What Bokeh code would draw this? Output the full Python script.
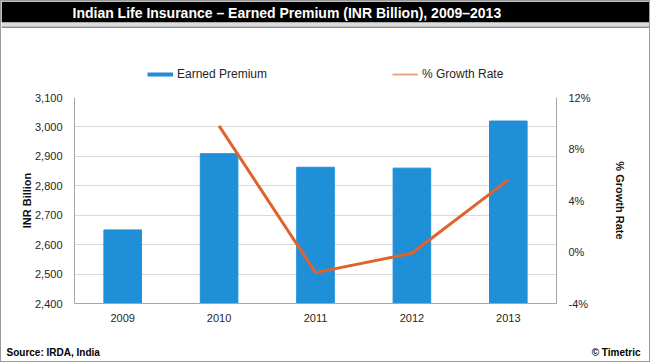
from bokeh.plotting import figure
from bokeh.layouts import column
from bokeh.models import (Range1d, LinearAxis, FixedTicker, NumeralTickFormatter,
                          PrintfTickFormatter, Legend, LegendItem, Label, BoxAnnotation,
                          FactorRange)
from bokeh.embed import file_html
from bokeh.resources import INLINE

# ---------------- data ----------------
years = ["2009", "2010", "2011", "2012", "2013"]
premium = [2650, 2909, 2863, 2860, 3020]          # INR Billion
growth_years = ["2010", "2011", "2012", "2013"]
growth = [9.8, -1.6, -0.1, 5.6]                     # % growth rate
left_ticks = [2400, 2500, 2600, 2700, 2800, 2900, 3000, 3100]
right_ticks = [-4, 0, 4, 8, 12]

title_text = "Indian Life Insurance \u2013 Earned Premium (INR Billion), 2009\u20132013"
source_text = "Source: IRDA, India"
credit_text = "\u00a9 Timetric"

# ---------------- layout ----------------
FONT = "Liberation Sans"
W = 648
HH, MH, FH = 86, 252, 22          # header, main, footer heights
FL, FR = 73, 555                  # main frame left/right (canvas px)
MT, MB = 10, 216                  # main frame top/bottom (canvas px)

BLUE = "#1f8fd8"
ORANGE = "#e0622c"
AXIS = "#a6a6a6"
TXT = "#262626"


def bare(height):
    f = figure(width=W, height=height, x_range=Range1d(0, W), y_range=Range1d(0, height),
               output_backend="svg", toolbar_location=None, min_border=0,
               x_axis_location=None, y_axis_location=None)
    f.frame_align = False
    f.grid.visible = False
    f.outline_line_color = None
    f.background_fill_color = "white"
    f.border_fill_color = "white"
    return f


def sbox(f, top, bottom, color, height):
    f.add_layout(BoxAnnotation(left=0, right=W, top=height - top, bottom=height - bottom,
                               left_units="screen", right_units="screen",
                               top_units="screen", bottom_units="screen",
                               fill_color=color, fill_alpha=1, line_color=None))


# ---------------- header: title bar + legend ----------------
header = bare(HH)
sbox(header, 0, 21, "black", HH)
sbox(header, 21, 25, "#dcdcdc", HH)
sbox(header, 25, 26.5, "#8c8c8c", HH)
header.add_layout(Label(x=71, y=HH - 11.5, x_units="screen", y_units="screen",
                        text=title_text, text_color="white", text_font=FONT,
                        text_font_size="14px", text_font_style="bold",
                        text_baseline="middle"))

# legend swatches (drawn outside the visible range, so only the legend shows them)
sw_bar = header.line(x=[0, 1], y=[-50, -50], line_width=4, color=BLUE, line_cap="butt")
sw_line = header.line(x=[0, 1], y=[-50, -50], line_width=2, color="#e9a584")


def make_legend(label, rend, cx):
    return Legend(items=[LegendItem(label=label, renderers=[rend])],
                  location=(cx, HH - 80), orientation="horizontal",
                  padding=0, margin=0, spacing=0, glyph_width=26, glyph_height=14,
                  label_height=14, label_standoff=4, border_line_color=None,
                  background_fill_alpha=0, label_text_font=FONT,
                  label_text_font_size="12px", label_text_color=TXT)


header.add_layout(make_legend("Earned Premium", sw_bar, 146))
header.add_layout(make_legend("% Growth Rate", sw_line, 391))

# ---------------- main chart ----------------
p = figure(width=W, height=MH, x_range=FactorRange(*years), y_range=Range1d(2400, 3100),
           output_backend="svg", toolbar_location=None,
           min_border_left=FL, min_border_right=W - FR,
           min_border_top=MT, min_border_bottom=MH - MB)
p.frame_align = False
p.outline_line_color = None
p.background_fill_color = "white"
p.border_fill_color = "white"
p.extra_y_ranges = {"growth": Range1d(-4, 12)}

bars = p.vbar(x=years, top=premium, bottom=2400, width=0.39, color=BLUE)
line = p.line(x=growth_years, y=growth, y_range_name="growth", line_width=3, color=ORANGE)

p.xaxis.axis_line_color = AXIS
p.xaxis.major_tick_line_color = None
p.xaxis.major_label_standoff = 4
p.yaxis.ticker = FixedTicker(ticks=left_ticks)
p.yaxis.formatter = NumeralTickFormatter(format="0,0")
p.yaxis.axis_label = "INR Billion"

right = LinearAxis(y_range_name="growth", ticker=FixedTicker(ticks=right_ticks),
                   formatter=PrintfTickFormatter(format="%d%%"),
                   axis_label="% Growth Rate")
p.add_layout(right, "right")

for ax in p.yaxis:
    ax.axis_line_color = AXIS
    ax.major_tick_line_color = None
    ax.minor_tick_line_color = None
    ax.major_label_standoff = 6
for ax in p.xaxis + p.yaxis:
    ax.major_label_text_font = FONT
    ax.major_label_text_font_size = "11px"
    ax.major_label_text_color = TXT
    ax.axis_label_text_font = FONT
    ax.axis_label_text_font_size = "11px"
    ax.axis_label_text_font_style = "bold"
    ax.axis_label_text_color = "#111111"
p.yaxis[0].axis_label_standoff = -1
right.axis_label_standoff = 20

p.xgrid.visible = False
p.ygrid.ticker = FixedTicker(ticks=left_ticks)
p.ygrid.grid_line_color = "#d9d9d9"

# ---------------- footer ----------------
footer = bare(FH)
footer.add_layout(Label(x=5, y=FH - 13, x_units="screen", y_units="screen",
                        text=source_text, text_color="black", text_font=FONT,
                        text_font_size="10px", text_font_style="bold",
                        text_baseline="middle"))
footer.add_layout(Label(x=639, y=FH - 13, x_units="screen", y_units="screen",
                        text=credit_text, text_color="black", text_font=FONT,
                        text_font_size="10px", text_font_style="bold",
                        text_baseline="middle", text_align="right"))

layout = column(header, p, footer, spacing=0,
                styles={"border": "1px solid #9a9a9a"})

open("out.html", "w").write(file_html(layout, INLINE))
